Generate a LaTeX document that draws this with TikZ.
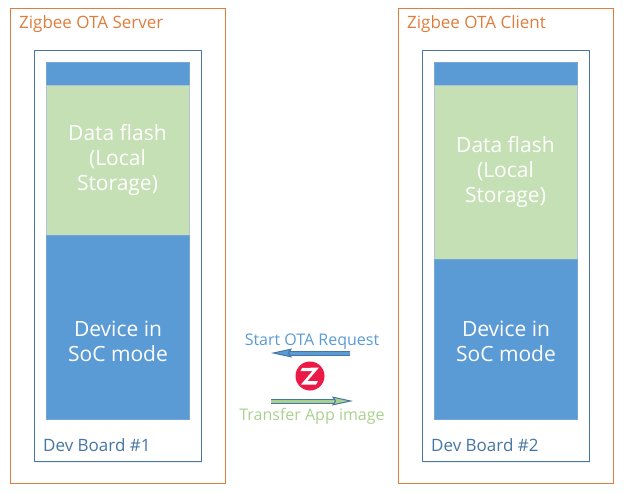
\documentclass[tikz,border=0pt]{standalone}
\usepackage{fontspec}
\setmainfont{Open Sans}
\usetikzlibrary{positioning,arrows.meta,shadows}
\definecolor{colorsystem} {RGB}{223,125, 60}
\definecolor{colorboard}  {RGB}{ 70,118,163}
\definecolor{colorchip}   {RGB}{ 91,155,213}
\definecolor{colorflash}  {RGB}{197,224,180}
\definecolor{colorframe}  {RGB}{178,193,214}
\definecolor{colorgreen}  {RGB}{169,209,142}
\definecolor{colorlogo}   {RGB}{235, 25, 70}

\begin{document}
\begin{tikzpicture}[
    x=1pt, y=-1pt,
    font={\fontsize{17}{20}\selectfont},
    base/.style={inner sep=0pt,outer sep=0pt,rectangle,anchor=north west},
    txt/.style={inner sep=0pt,anchor=base west},
    softshadow/.style={drop shadow={opacity=0.12,shadow xshift=1pt,shadow yshift=-2pt}},
    system/.style={base,thick,draw=colorsystem,minimum width=215pt,minimum height=475pt},
    board/.style={base,thick,draw=colorboard,fill=white,softshadow,minimum width=167pt,minimum height=411pt},
    block/.style={base,draw=colorframe,text=white,align=center,font={\fontsize{21}{25}\selectfont},minimum width=143pt},
    chip/.style={block,fill=colorchip,draw=colorchip!70!colorframe},
    flash/.style={block,fill=colorflash},
    chiptxt/.style={inner sep=0pt,text=white,align=center,font={\fontsize{21}{25}\selectfont}},
    link/.style={line width=1pt,double distance=3pt,-{Stealth[length=21pt,width=9pt,inset=3pt,fill=#1]}},
]
    \useasboundingbox (0,0) rectangle (627,493);

    % Server side
    \node[system]                     (server)  at (10,8)    {};
    \node[txt,text=colorsystem]       (serverl) at (19,28)   {Zigbee OTA Server};
    \node[board]                      (board1)  at (34,50)   {};
    \node[chip,minimum height=23pt]   (top1)    at (46,62)   {};
    \node[flash,minimum height=150pt] (flash1)  at (46,85)   {Data flash\\(Local\\Storage)};
    \node[chip,minimum height=184pt]  (soc1)    at (46,235)  {};
    \node[chiptxt]                    (soc1l)   at (118,341.5) {Device in\\SoC mode};
    \node[txt,text=colorboard]        (board1l) at (43,451)  {Dev Board \#1};

    % Client side
    \node[system]                     (client)  at (398,8)   {};
    \node[txt,text=colorsystem]       (clientl) at (407,28)  {Zigbee OTA Client};
    \node[board]                      (board2)  at (422,50)  {};
    \node[chip,minimum height=23pt]   (top2)    at (434,62)  {};
    \node[flash,minimum height=174pt] (flash2)  at (434,85)  {Data flash\\(Local\\Storage)};
    \node[chip,minimum height=160pt]  (soc2)    at (434,259) {};
    \node[chiptxt]                    (soc2l)   at (506,341.5) {Device in\\SoC mode};
    \node[txt,text=colorboard]        (board2l) at (431,451) {Dev Board \#2};

    % Link between the boards
    \node[txt,anchor=base,text=colorchip]  (request) at (312,345) {\fontsize{16}{20}\selectfont Start OTA Request};
    \node[txt,anchor=base,text=colorgreen] (image)   at (312,420) {\fontsize{16}{20}\selectfont Transfer App image};

    \node[circle,fill=colorlogo,minimum size=29pt,inner sep=0pt] (logo) at (310,376) {};
    \fill[white] (302,368) -- (319,367.5) -- (307.5,381) -- (318,381) -- (316,384.5) -- (301,384.5) -- (312.5,371) -- (300.5,371) -- cycle;

    \coordinate (reqa)  at (350,353);
    \coordinate (reqb)  at (271,353);
    \coordinate (imga)  at (271,401);
    \coordinate (imgb)  at (353,401);
    \draw[color=colorboard,double=colorchip,link=colorchip]   (reqa) -- (reqb);
    \draw[color=colorboard,double=colorgreen,link=colorgreen] (imga) -- (imgb);

\end{tikzpicture}
\end{document}
